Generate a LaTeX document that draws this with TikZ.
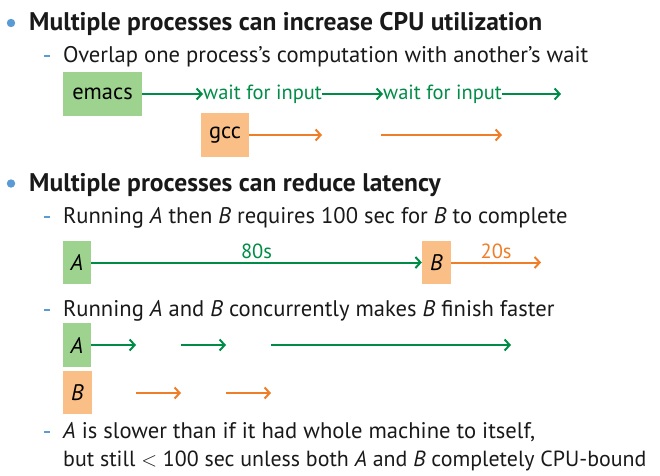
\documentclass[tikz,border=0pt]{standalone}
\usepackage{fontspec}
\setmainfont{PT Sans}
\usepackage{xcolor}
\usetikzlibrary{positioning,calc,arrows.meta}

\definecolor{boxgreen}{RGB}{158,211,143}
\definecolor{boxorange}{RGB}{250,191,135}
\definecolor{rungreen}{RGB}{0,140,70}
\definecolor{runorange}{RGB}{240,125,40}
\definecolor{bulletblue}{RGB}{91,155,213}

\begin{document}
\begin{tikzpicture}[x=1pt,y=-1pt,
    head/.style={anchor=base west, inner sep=0pt, text=black!90, font=\fontsize{25.5}{28}\selectfont\bfseries},
    body/.style={anchor=base west, inner sep=0pt, text=black!90, font=\fontsize{22.6}{26}\selectfont},
    proc/.style={inner sep=0pt, font=\fontsize{22.5}{26}\selectfont},
    label/.style={inner sep=0pt, font=\fontsize{20.5}{24}\selectfont},
    greenbox/.style={proc, fill=boxgreen, minimum height=44pt},
    orangebox/.style={proc, fill=boxorange, minimum height=44pt},
    run/.style={line width=2pt, -{Straight Barb[length=5pt,width=11pt]}}]
    \useasboundingbox (0,0) rectangle (660,475);

    % Bullets and dashes
    \foreach \y in {23,183.5}
        \fill[bulletblue] (11,\y) circle (4.2pt);
    \foreach \y in {62,223,316,438}
        \draw[bulletblue, line width=2pt] (44,\y-6.5) -- (50,\y-6.5);

    % Text lines
    \node[head] (h1) at (29,30.5) {Multiple processes can increase CPU utilization};
    \node[body] (s1) at (63,62) {Overlap one process’s computation with another’s wait};
    \node[head] (h2) at (29,191) {Multiple processes can reduce latency};
    \node[body] (s2) at (63,223) {Running \textit{A} then \textit{B} requires 100 sec for \textit{B} to complete};
    \node[body] (s3) at (63,316) {Running \textit{A} and \textit{B} concurrently makes \textit{B} finish faster};
    \node[body] (s4) at (63,438) {\textit{A} is slower than if it had whole machine to itself,};
    \node[body, font=\fontsize{21.9}{26}\selectfont] (s5) at (63,466) {but still $<$ 100 sec unless both \textit{A} and \textit{B} completely CPU-bound};

    % emacs / gcc
    \node[greenbox, minimum width=79pt] (emacs) at (102.5,94) {emacs};
    \node[label, text=rungreen, anchor=west] (wait1) at (203,94) {wait for input};
    \node[label, text=rungreen, anchor=west] (wait2) at (383,94) {wait for input};
    \coordinate (eend) at (561,94);
    \draw[run, rungreen] (emacs) -- (wait1);
    \draw[run, rungreen] (wait1) -- (wait2);
    \draw[run, rungreen] (wait2) -- (eend);

    \node[orangebox, minimum width=48pt] (gcc) at (225,135) {gcc};
    \coordinate (g1) at (322,135);
    \coordinate (g2) at (381,135);
    \coordinate (g3) at (502,135);
    \draw[run, runorange] (gcc) -- (g1);
    \draw[run, runorange] (g2) -- (g3);

    % A then B
    \node[greenbox, minimum width=28pt, minimum height=43pt] (a1) at (77,262.5) {\textit{A}};
    \node[orangebox, minimum width=29pt, minimum height=43pt] (b1) at (436.5,262.5) {\textit{B}};
    \coordinate (b1end) at (541,262.5);
    \draw[run, rungreen] (a1) -- node[above=3pt, text=rungreen, label] {80s} (b1);
    \draw[run, runorange] (b1) -- node[above=3pt, text=runorange, label] {20s} (b1end);

    % A and B concurrently
    \node[greenbox, minimum width=28pt] (a2) at (77,345) {\textit{A}};
    \node[orangebox, minimum width=29pt, minimum height=43pt] (b2) at (77.5,392.5) {\textit{B}};
    \coordinate (p1) at (136,345);
    \coordinate (p2) at (181,345);
    \coordinate (p3) at (226,345);
    \coordinate (p4) at (271,345);
    \coordinate (p5) at (511,345);
    \coordinate (q1) at (136,393);
    \coordinate (q2) at (181,393);
    \coordinate (q3) at (226,393);
    \coordinate (q4) at (271,393);
    \draw[run, rungreen] (a2) -- (p1);
    \draw[run, rungreen] (p2) -- (p3);
    \draw[run, rungreen] (p4) -- (p5);
    \draw[run, runorange] (q1) -- (q2);
    \draw[run, runorange] (q3) -- (q4);
\end{tikzpicture}
\end{document}
